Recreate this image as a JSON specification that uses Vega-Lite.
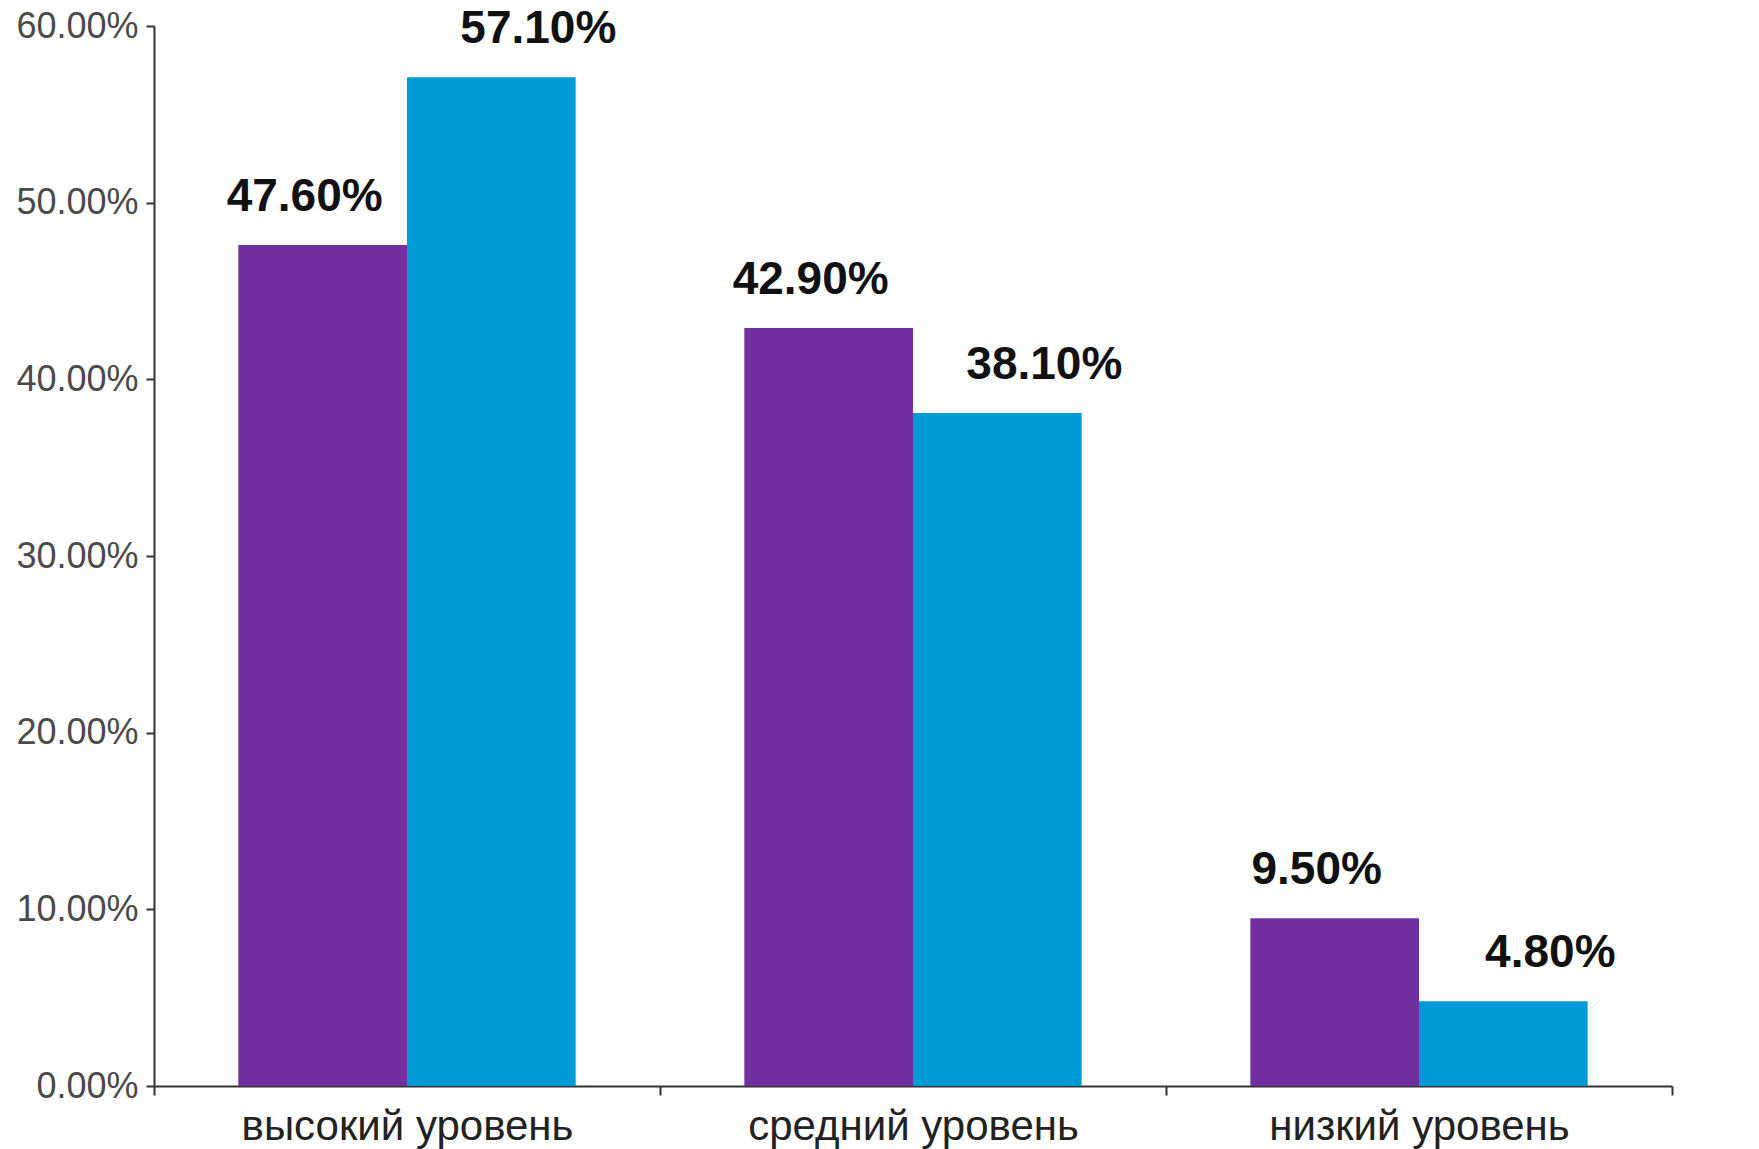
{
  "$schema": "https://vega.github.io/schema/vega-lite/v6.json",
  "width": 1518,
  "height": 1060,
  "autosize": {"type": "none"},
  "padding": {"left": 154, "top": 26, "right": 87, "bottom": 63},
  "background": "white",
  "config": {"view": {"stroke": null}, "font": "Liberation Sans"},
  "data": {
    "values": [
      {"level": "высокий уровень", "series": "A", "value": 0.476},
      {"level": "высокий уровень", "series": "B", "value": 0.571},
      {"level": "средний уровень", "series": "A", "value": 0.429},
      {"level": "средний уровень", "series": "B", "value": 0.381},
      {"level": "низкий уровень", "series": "A", "value": 0.095},
      {"level": "низкий уровень", "series": "B", "value": 0.048}
    ]
  },
  "encoding": {
    "x": {
      "field": "level",
      "type": "nominal",
      "sort": null,
      "title": null,
      "scale": {"paddingInner": 0, "paddingOuter": 0},
      "axis": {
        "labelAngle": 0,
        "labelFontSize": 42,
        "labelLimit": 0,
        "labelColor": "#222222",
        "labelPadding": 11,
        "tickBand": "extent",
        "tickSize": 9,
        "tickColor": "#333333",
        "tickWidth": 2,
        "domainColor": "#333333",
        "domainWidth": 2,
        "grid": false
      }
    },
    "xOffset": {
      "field": "series",
      "type": "nominal",
      "sort": ["A", "B"],
      "scale": {"paddingInner": 0, "paddingOuter": 0.5}
    },
    "y": {
      "field": "value",
      "type": "quantitative",
      "title": null,
      "scale": {"domain": [0, 0.6], "nice": false},
      "axis": {
        "values": [0, 0.1, 0.2, 0.3, 0.4, 0.5, 0.6],
        "format": ".2%",
        "labelFontSize": 36,
        "labelColor": "#4a4a4a",
        "labelPadding": 8,
        "tickSize": 8,
        "tickColor": "#333333",
        "tickWidth": 2,
        "domainColor": "#333333",
        "domainWidth": 2,
        "grid": false
      }
    }
  },
  "layer": [
    {
      "mark": {"type": "bar"},
      "encoding": {
        "color": {
          "field": "series",
          "type": "nominal",
          "scale": {"domain": ["A", "B"], "range": ["#7030A0", "#009BD7"]},
          "legend": null
        }
      }
    },
    {
      "transform": [{"filter": "datum.series === 'A'"}],
      "mark": {"type": "text", "fontWeight": "bold", "fontSize": 46, "baseline": "alphabetic", "dy": -34, "dx": -18, "color": "#111111"},
      "encoding": {"text": {"field": "value", "type": "quantitative", "format": ".2%"}}
    },
    {
      "transform": [{"filter": "datum.series === 'B'"}],
      "mark": {"type": "text", "fontWeight": "bold", "fontSize": 46, "baseline": "alphabetic", "dy": -34, "dx": 47, "color": "#111111"},
      "encoding": {"text": {"field": "value", "type": "quantitative", "format": ".2%"}}
    }
  ]
}
